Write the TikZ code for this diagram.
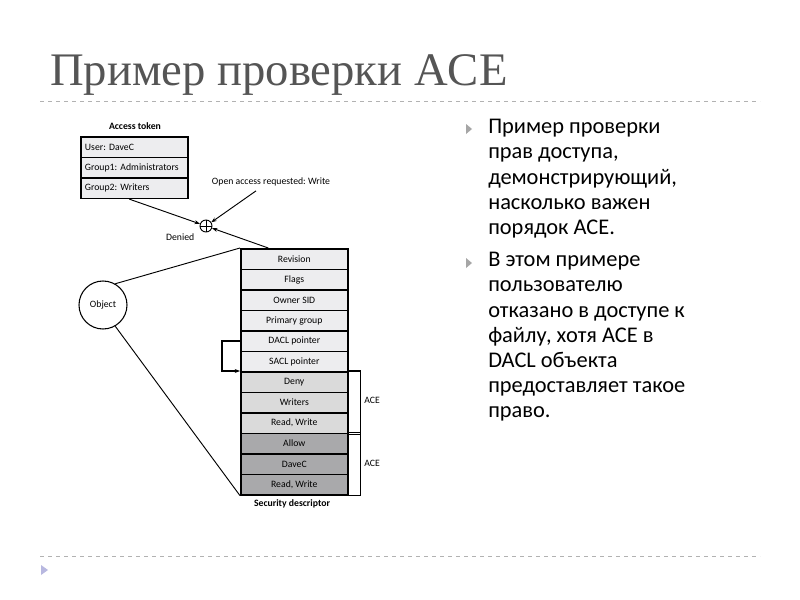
\documentclass[tikz,border=0pt]{standalone}
\usepackage{fontspec}
\setmainfont{Carlito}
\newfontfamily\titlefont{Liberation Serif}
\usetikzlibrary{arrows.meta}
\definecolor{titlegray}{HTML}{555555}
\definecolor{fa}{HTML}{EDEDEF}
\definecolor{fb}{HTML}{DADADA}
\definecolor{fc}{HTML}{A9A9AB}
\begin{document}
\frenchspacing
\begin{tikzpicture}[x=0.75pt,y=-0.75pt,
 cell/.style={draw=black,line width=1.2pt,minimum width=80.25pt,minimum height=15.4pt,inner sep=0pt,font=\fontsize{7.3}{8}\selectfont,anchor=north west},
 tcell/.style={cell,minimum width=80.25pt,text width=74pt,align=left},
 lbl/.style={font=\fontsize{7.3}{8}\selectfont},
 arr/.style={-{Stealth[length=4pt,width=3pt]},line width=0.7pt},
 para/.style={anchor=north west,align=left,font=\fontsize{16.8}{18.9}\selectfont,inner sep=0pt}]
\useasboundingbox (0,0) rectangle (800,600);
\fill[white] (0,0) rectangle (800,600);
\node[anchor=base west,inner sep=0pt,text=titlegray,font=\titlefont\fontsize{35}{36}\selectfont] (title) at (50,85) {Пример проверки ACE};
\draw[gray!60,dashed,line width=0.6pt] (40,101) -- (760,101);
\draw[gray!60,dashed,line width=0.6pt] (40,556) -- (760,556);
\fill[gray!60!blue!40] (41,565) -- (48,570) -- (41,575) -- cycle;
% access token
\node[lbl,font=\bfseries\fontsize{7.3}{8}\selectfont] (atl) at (135,126) {Access token};
\node[tcell,fill=fa] (u) at (80,136) {User: DaveC};
\node[tcell,fill=fa] (g1) at (80,156.5) {Group1: Administrators};
\node[tcell,fill=fa] (g2) at (80,177) {Group2: Writers};
% plus
\node[circle,draw,line width=0.7pt,minimum size=9pt,inner sep=0pt] (p) at (206,226) {};
\draw[line width=0.7pt] (p.north) -- (p.south) (p.west) -- (p.east);
\node[lbl,anchor=east] (den) at (199,237) {Denied};
\node[lbl] (oar) at (271,182) {Open access requested: Write};
% SD
\foreach \t/\c [count=\i from 0] in {Revision/fa,Flags/fa,Owner SID/fa,Primary group/fa,DACL pointer/fa,SACL pointer/fa,Deny/fb,Writers/fb,{Read, Write}/fb,Allow/fc,DaveC/fc,{Read, Write}/fc}
  \node[cell,fill=\c] (s\i) at (240,248+\i*20.5) {\t};
\node[lbl,font=\bfseries\fontsize{7.3}{8}\selectfont] (sdl) at (292,504) {Security descriptor};
\draw[arr] (g2.south) ++(-5,0) coordinate (g2a) -- (p);
\draw[arr] (oar.south) ++(-15,0) coordinate (oa) -- (p);
\draw[arr] (s0.north) ++(-26,0) coordinate (rv) -- (p);
% object
\node[circle,draw,line width=0.8pt,minimum size=36pt,inner sep=0pt,lbl] (obj) at (103,305) {Object};
\draw[line width=0.7pt] (obj.60) -- (s0.north west);
\draw[line width=0.7pt] (obj.-60) -- (s11.south west);
% DACL pointer
\draw[arr,line width=0.9pt] (s4.west) -- ++(-18,0) |- (s6.north west);
% braces
\draw[line width=0.9pt] (s6.north east) -- ++(12,0) |- (s8.south east);
\draw[line width=0.9pt] (s9.north east) -- ++(12,0) |- (s11.south east);
\node[lbl] (ace1) at (372,400) {ACE};
\node[lbl] (ace2) at (372,463) {ACE};
% bullets
\fill[gray!70] (466,124) -- (472,129) -- (466,134) -- cycle;
\fill[gray!70] (466,258) -- (472,263) -- (466,268) -- cycle;
\node[para] (t1) at (488,119) {Пример проверки\\прав доступа,\\демонстрирующий,\\насколько важен\\порядок ACE.};
\node[para] (t2) at (488,252) {В этом примере\\пользователю\\отказано в доступе к\\файлу, хотя ACE в\\DACL объекта\\предоставляет такое\\право.};
\end{tikzpicture}
\end{document}
